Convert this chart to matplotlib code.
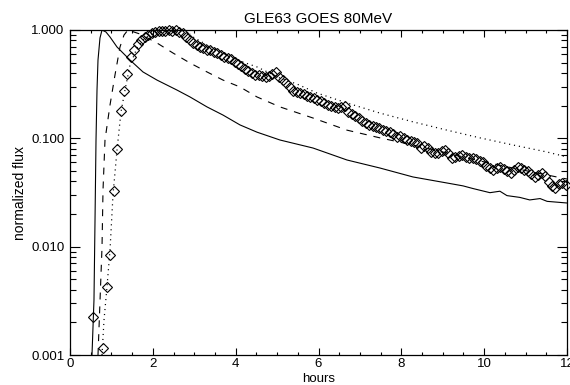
import matplotlib
matplotlib.use("Agg")
import matplotlib.pyplot as plt
from matplotlib.ticker import LogLocator, MultipleLocator, FixedLocator, NullFormatter

plt.rcParams.update({
    "font.family": ["Liberation Sans", "DejaVu Sans"],
    "lines.scale_dashes": False,
})

# GOES 80 MeV observations (diamonds)
obs_hours = [
    0.555, 0.805, 0.888, 0.972,
    1.055, 1.138, 1.222, 1.305, 1.388, 1.472, 1.555, 1.638, 1.722, 1.805, 1.888, 1.972,
    2.055, 2.138, 2.222, 2.305, 2.388, 2.472, 2.555, 2.638, 2.722, 2.805, 2.888, 2.972,
    3.055, 3.138, 3.222, 3.305, 3.388, 3.472, 3.555, 3.638, 3.722, 3.805, 3.888, 3.972,
    4.055, 4.138, 4.222, 4.305, 4.388, 4.472, 4.555, 4.638, 4.722, 4.805, 4.888, 4.972,
    5.055, 5.138, 5.222, 5.305, 5.388, 5.472, 5.555, 5.638, 5.722, 5.805, 5.888, 5.972,
    6.055, 6.138, 6.222, 6.305, 6.388, 6.472, 6.555, 6.638, 6.722, 6.805, 6.888, 6.972,
    7.055, 7.138, 7.222, 7.305, 7.388, 7.472, 7.555, 7.638, 7.722, 7.805, 7.888, 7.972,
    8.055, 8.138, 8.222, 8.305, 8.388, 8.472, 8.555, 8.638, 8.722, 8.805, 8.888, 8.972,
    9.055, 9.138, 9.222, 9.305, 9.388, 9.472, 9.555, 9.638, 9.722, 9.805, 9.888, 9.972,
    10.055, 10.138, 10.222, 10.305, 10.388, 10.472, 10.555, 10.638, 10.722, 10.805, 10.888, 10.972,
    11.055, 11.138, 11.222, 11.305, 11.388, 11.472, 11.555, 11.638, 11.722, 11.805, 11.888, 11.972,
]
obs_flux = [
    0.00224, 0.00116, 0.00424, 0.00838,
    0.0327, 0.0797, 0.179, 0.273, 0.393, 0.563, 0.654, 0.743, 0.809, 0.862, 0.899, 0.938,
    0.958, 0.979, 0.979, 0.979, 1.0, 0.979, 1.0, 0.958, 0.938, 0.862, 0.809, 0.759,
    0.727, 0.697, 0.682, 0.654, 0.654, 0.626, 0.613, 0.588, 0.563, 0.551, 0.540, 0.506,
    0.485, 0.465, 0.436, 0.418, 0.401, 0.384, 0.384, 0.376, 0.368, 0.376, 0.393, 0.410,
    0.368, 0.345, 0.324, 0.298, 0.273, 0.268, 0.262, 0.257, 0.246, 0.241, 0.236, 0.226,
    0.221, 0.212, 0.203, 0.199, 0.195, 0.191, 0.195, 0.199, 0.175, 0.168, 0.161, 0.154,
    0.145, 0.138, 0.133, 0.130, 0.127, 0.125, 0.119, 0.117, 0.114, 0.110, 0.103, 0.105,
    0.101, 0.0965, 0.0945, 0.0925, 0.0905, 0.0814, 0.0850, 0.0814, 0.0748, 0.0732, 0.0732, 0.0764,
    0.078, 0.0732, 0.0658, 0.0673, 0.0687, 0.0702, 0.0673, 0.0658, 0.0658, 0.0645, 0.0618, 0.0605,
    0.0556, 0.0532, 0.0510, 0.0532, 0.0544, 0.0521, 0.0499, 0.0479, 0.0510, 0.0544, 0.0532, 0.0510,
    0.0499, 0.0469, 0.0440, 0.0459, 0.0479, 0.0449, 0.0395, 0.0363, 0.0348, 0.0379, 0.0387, 0.0371,
]

# model curves
solid_hours = [0.531, 0.579, 0.604, 0.628, 0.652, 0.676, 0.724, 0.773, 0.869, 0.966,
               1.135, 1.449, 1.762, 2.100, 2.583, 2.897, 3.308, 3.694, 4.104, 4.515,
               5.070, 5.867, 6.688, 7.484, 8.281, 9.102, 9.490, 9.730, 10.140, 10.380,
               10.550, 10.860, 11.100, 11.350, 11.520, 12.0]
solid_flux = [0.001, 0.00322, 0.0176, 0.0965, 0.279, 0.528, 0.844, 1.0, 0.958, 0.862,
              0.697, 0.528, 0.410, 0.345, 0.279, 0.241, 0.195, 0.164, 0.133, 0.114,
              0.0965, 0.0814, 0.0631, 0.0532, 0.0440, 0.0387, 0.0364, 0.0344, 0.0315, 0.0325,
              0.0296, 0.0285, 0.0270, 0.0278, 0.0262, 0.0253]

dash_hours = [0.676, 0.773, 0.797, 0.845, 0.966, 1.086, 1.207, 1.304, 1.400, 1.690,
              2.100, 2.487, 2.897, 3.308, 3.694, 4.104, 4.515, 5.070, 5.867, 6.688,
              7.484, 8.281, 9.102, 9.899, 10.695, 11.516, 12.0]
dash_flux = [0.001, 0.00993, 0.0333, 0.0965, 0.203, 0.384, 0.697, 0.899, 1.0, 0.918,
             0.759, 0.613, 0.496, 0.410, 0.345, 0.298, 0.241, 0.195, 0.154, 0.119,
             0.101, 0.0868, 0.0732, 0.0618, 0.0532, 0.0459, 0.0421]

dot_hours = [0.773, 0.821, 0.893, 0.966, 1.038, 1.135, 1.231, 1.328, 1.449, 1.618,
             1.811, 2.052, 2.414, 2.776, 2.970, 3.308, 3.694, 4.104, 4.515, 5.070,
             5.480, 5.963, 6.688, 7.484, 8.281, 9.102, 9.899, 10.695, 11.516, 12.0]
dot_flux = [0.001, 0.0021, 0.00424, 0.0093, 0.030, 0.078, 0.175, 0.279, 0.475, 0.682,
            0.844, 0.938, 0.979, 1.0, 0.862, 0.727, 0.613, 0.517, 0.456, 0.360,
            0.317, 0.262, 0.212, 0.171, 0.142, 0.119, 0.101, 0.0868, 0.0748, 0.0673]

fig = plt.figure(figsize=(5.7, 3.85), dpi=100)
ax = fig.add_axes([70 / 570, 1 - 355 / 385, 497 / 570, 325 / 385])

ax.plot(solid_hours, solid_flux, color="black", lw=0.8)
ax.plot(dash_hours, dash_flux, color="black", lw=0.8, dashes=(5, 5))
ax.plot(dot_hours, dot_flux, color="black", lw=0.9, dashes=(0.8, 2.8))
ax.plot(obs_hours, obs_flux, ls="none", marker="D", ms=5.0, mfc="none",
        mec="black", mew=0.8, clip_on=False)

ax.set_yscale("log")
ax.set_xlim(0, 12)
ax.set_ylim(0.001, 1.0)

ax.xaxis.set_major_locator(MultipleLocator(2))
ax.xaxis.set_minor_locator(MultipleLocator(0.5))
ax.yaxis.set_major_locator(FixedLocator([0.001, 0.01, 0.1, 1.0]))
ax.yaxis.set_minor_locator(LogLocator(base=10, subs=range(2, 10)))
ax.yaxis.set_minor_formatter(NullFormatter())
ax.set_yticklabels(["0.001", "0.010", "0.100", "1.000"])

ax.tick_params(which="both", direction="in", top=True, right=True, width=0.8,
               color="black", labelsize=9.5)
ax.tick_params(axis="x", which="major", length=5, pad=2.5)
ax.tick_params(axis="x", which="minor", length=2.5)
ax.tick_params(axis="y", which="major", length=7.2, pad=4)
ax.tick_params(axis="y", which="minor", length=4.3)
for s in ax.spines.values():
    s.set_linewidth(0.9)

ax.set_title("GLE63 GOES 80MeV", fontsize=11, pad=5)
ax.set_xlabel("hours", fontsize=9.5, labelpad=2)
ax.set_ylabel("normalized flux", fontsize=10, labelpad=3)

fig.savefig("out.png", dpi=100, facecolor="white")
